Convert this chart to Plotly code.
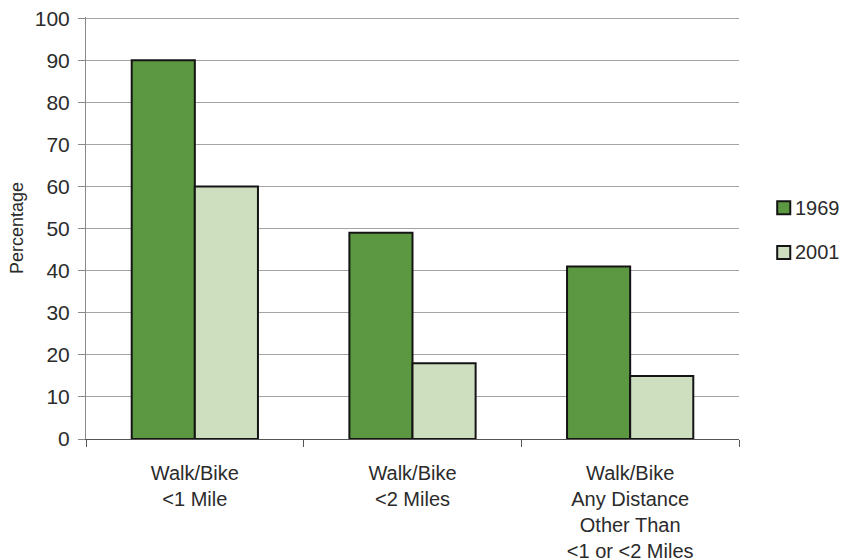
import plotly.graph_objects as go

categories = ["Walk/Bike<br><1 Mile", "Walk/Bike<br><2 Miles",
              "Walk/Bike<br>Any Distance<br>Other Than<br><1 or <2 Miles"]
series_names = ["1969", "2001"]
values_1969 = [90, 49, 41]
values_2001 = [60, 18, 15]
y_ticks = [0, 10, 20, 30, 40, 50, 60, 70, 80, 90, 100]
colors = ["#5b9841", "#cedfc0"]

FONT = "Liberation Sans, Arial, Helvetica, sans-serif"
TXT = "#2b2b2b"
EDGE = "#141414"

fig = go.Figure()
for name, vals, col in zip(series_names, [values_1969, values_2001], colors):
    fig.add_trace(go.Bar(x=categories, y=vals, name=name, showlegend=False,
                         marker=dict(color=col, line=dict(color=EDGE, width=2))))

# manual legend (square + label) to the right of the plot
legend_y = [0.548, 0.442]
for name, col, yc in zip(series_names, colors, legend_y):
    fig.add_shape(type="rect", xref="paper", yref="paper",
                  x0=1.0585, x1=1.0785, y0=yc - 0.0155, y1=yc + 0.0155,
                  fillcolor=col, line=dict(color=EDGE, width=2))
    fig.add_annotation(text=name, xref="paper", yref="paper", x=1.083, y=yc,
                       xanchor="left", yanchor="middle", showarrow=False,
                       font=dict(size=20, color=TXT))

fig.update_layout(
    width=842, height=559,
    margin=dict(l=86, r=103, t=17, b=120, pad=0),
    paper_bgcolor="white", plot_bgcolor="white",
    barmode="group", bargap=0.42, bargroupgap=0,
    font=dict(family=FONT, size=20, color=TXT),
    xaxis=dict(type="category", showline=True, linecolor="#555555", linewidth=1,
               ticks="outside", tickson="boundaries", ticklen=7, tickcolor="#555555",
               showgrid=False, tickfont=dict(size=20, color=TXT), ticklabelstandoff=16,
               automargin=False, ticklabeloverflow="allow"),
    yaxis=dict(range=[0, 100.3], tickvals=y_ticks, showline=True, linecolor="#8a8a8a",
               linewidth=1, ticks="outside", ticklen=7, tickcolor="#8a8a8a",
               showgrid=True, gridcolor="#a3a3a3", gridwidth=1, zeroline=False,
               tickfont=dict(size=21, color=TXT), ticklabelstandoff=4, automargin=False,
               ticklabeloverflow="allow",
               title=dict(text="Percentage", font=dict(size=18, color=TXT), standoff=6)),
)

# remove the browser's default 8px body margin so the figure fills the window
fig.write_html("out.html", config={"displayModeBar": False},
               post_script="document.body.style.margin='0';document.body.style.overflow='hidden';")
